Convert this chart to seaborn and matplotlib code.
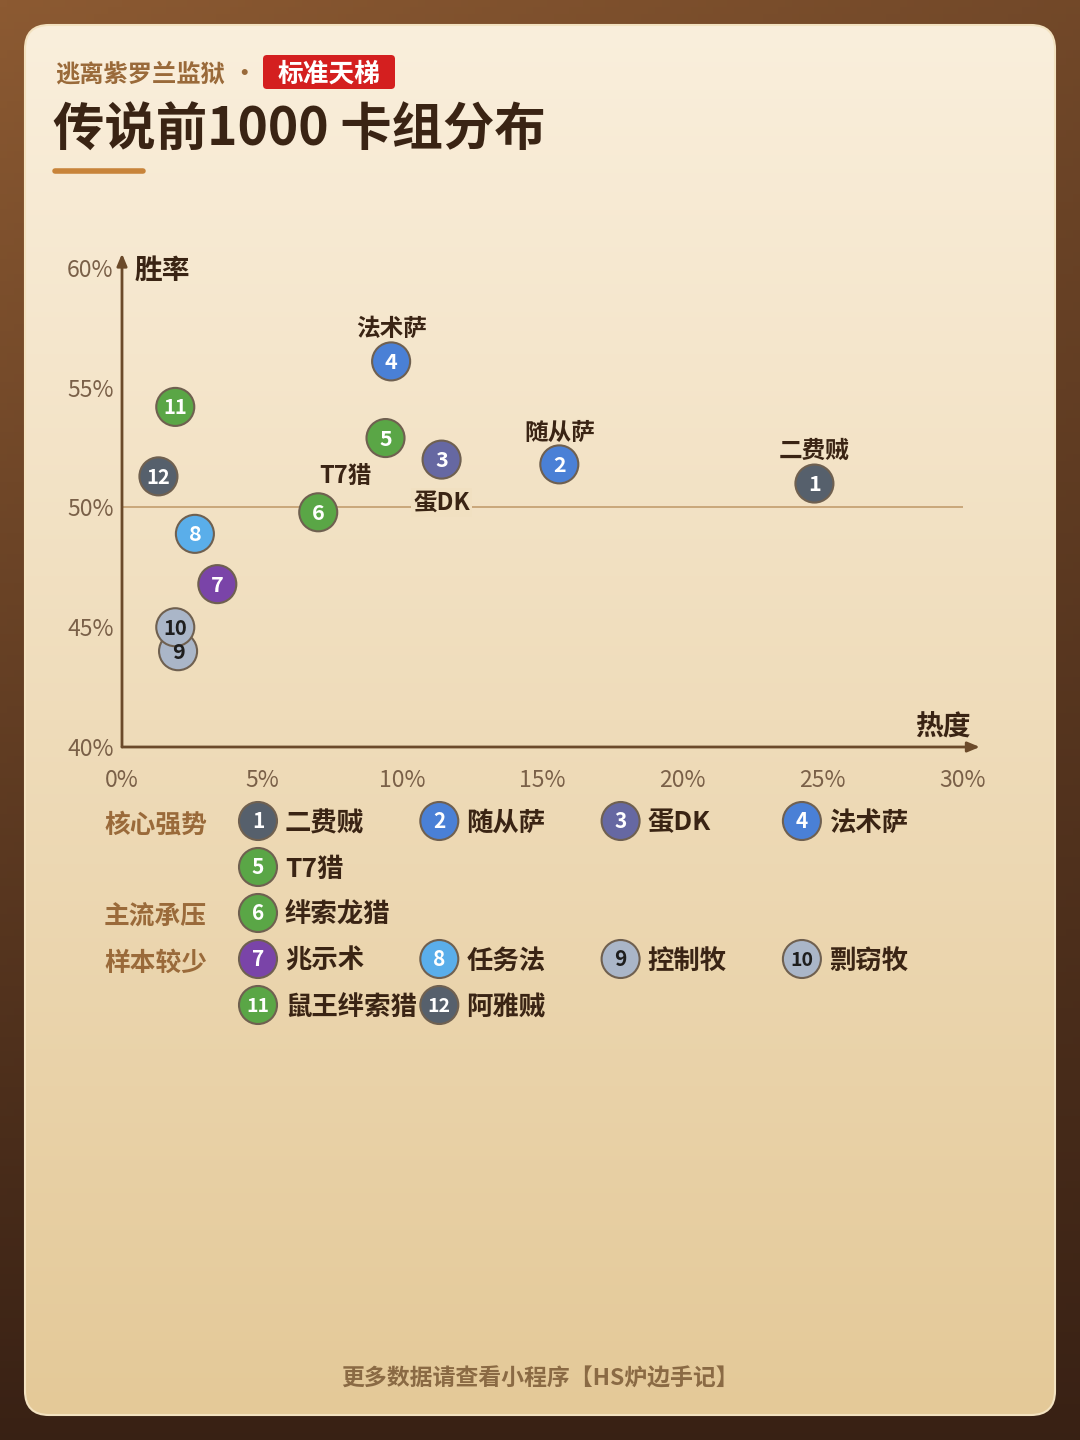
import numpy as np
import pandas as pd
import matplotlib
matplotlib.use("Agg")
import matplotlib.pyplot as plt
from matplotlib.patches import FancyBboxPatch, Circle
import seaborn as sns

# ---------------- data ----------------
deck_ids = [1, 2, 3, 4, 5, 6, 7, 8, 9, 10, 11, 12]
deck_names = ["二费贼", "随从萨", "蛋DK", "法术萨", "T7猎", "绊索龙猎",
              "兆示术", "任务法", "控制牧", "剽窃牧", "鼠王绊索猎", "阿雅贼"]
popularity = [24.7, 15.6, 11.4, 9.6, 9.4, 7.0, 3.4, 2.6, 2.0, 1.9, 1.9, 1.3]
winrate = [51.0, 51.8, 52.0, 56.1, 52.9, 49.8, 46.8, 48.9, 44.0, 45.0, 54.2, 51.3]
deck_tiers = ["核心强势"] * 5 + ["主流承压"] + ["样本较少"] * 6
tier_order = ["核心强势", "主流承压", "样本较少"]
deck_colors = ["#56606c", "#4a80d6", "#6668a2", "#4a80d6", "#5aa646", "#5aa646",
               "#7a44a8", "#5aaeea", "#aab6c8", "#aab6c8", "#5aa646", "#56606c"]
x_ticks = [0, 5, 10, 15, 20, 25, 30]
y_ticks = [40, 45, 50, 55, 60]
labeled = {1: (0, 33), 2: (0, 31), 4: (0, 32), 5: (-40, -39), 3: (0, -43)}

df = pd.DataFrame({"id": [str(i) for i in deck_ids], "热度": popularity,
                   "胜率": winrate, "name": deck_names, "tier": deck_tiers})
palette = {str(i): c for i, c in zip(deck_ids, deck_colors)}

# ---------------- style ----------------
sns.set_theme(style="white")
plt.rcParams["font.family"] = ["Noto Sans CJK SC", "DejaVu Sans"]

W, H = 1080, 1440
fig = plt.figure(figsize=(W / 100, H / 100), dpi=100)

DARK = "#3a2414"
GOLD = "#9a6a3a"
TICK = "#7a6048"
AXC = "#6b4a2a"

# background axes in pixel coordinates
bg = fig.add_axes([0, 0, 1, 1], zorder=-5)
bg.set_xlim(0, W)
bg.set_ylim(H, 0)
bg.axis("off")

# outer gradient
yy, xx = np.mgrid[0:1:200j, 0:1:150j]
t = np.clip(0.8 * yy + 0.25 * xx * (1 - yy), 0, 1)
c0 = np.array([0x8c, 0x5a, 0x32]) / 255
c1 = np.array([0x24, 0x13, 0x0d]) / 255
outer = c0[None, None, :] * (1 - t[..., None]) + c1[None, None, :] * t[..., None]
bg.imshow(outer, extent=(0, W, H, 0), aspect="auto", zorder=0)

# card
card = FancyBboxPatch((25, 25), 1030, 1390, boxstyle="round,pad=0,rounding_size=24",
                      facecolor="none", edgecolor="#f3e2c0", linewidth=1.5, zorder=2)
bg.add_patch(card)
g = np.linspace(0, 1, 300)[:, None]
ct = np.array([0xfa, 0xef, 0xdc]) / 255
cb = np.array([0xe4, 0xc9, 0x98]) / 255
cardimg = ct[None, None, :] * (1 - g[..., None]) + cb[None, None, :] * g[..., None]
cardimg = np.repeat(cardimg, 2, axis=1)
im = bg.imshow(cardimg, extent=(25, 1055, 1415, 25), aspect="auto", zorder=1)
im.set_clip_path(card)

# header
bg.text(55, 74, "逃离紫罗兰监狱", fontsize=17.5, fontweight="bold", color=GOLD,
        ha="left", va="center", zorder=3)
bg.text(244, 74, "•", fontsize=17, fontweight="bold", color=GOLD, ha="center",
        va="center", zorder=3)
bg.add_patch(FancyBboxPatch((263, 55), 132, 34, boxstyle="round,pad=0,rounding_size=4",
                            facecolor="#d41f1f", edgecolor="none", zorder=3))
bg.text(329, 74, "标准天梯", fontsize=18.5, fontweight="bold", color="white",
        ha="center", va="center", zorder=4)
bg.text(53, 130, "传说前1000 卡组分布", fontsize=37, fontweight="bold", color=DARK,
        ha="left", va="center", zorder=3)
bg.plot([55, 143], [171, 171], color="#c8843a", lw=4, solid_capstyle="round", zorder=3)

# footer
bg.text(540, 1379, "更多数据请查看小程序【HS炉边手记】", fontsize=16.5, fontweight="bold",
        style="italic", color="#8a6a44", ha="center", va="center", zorder=3)

# ---------------- main chart ----------------
x0p, x1p, y0p, y1p = 122, 963, 747, 268
ax = fig.add_axes([x0p / W, (H - y0p) / H, (x1p - x0p) / W, (y0p - y1p) / H])
ax.set_facecolor("none")
ax.set_xlim(0, 30)
ax.set_ylim(40, 60)
for s in ax.spines.values():
    s.set_visible(False)

ax.plot([0, 30], [50, 50], color="#c9a77a", lw=1.4, zorder=1)

ax.annotate("", xy=(0, 60.6), xytext=(0, 40), annotation_clip=False,
            arrowprops=dict(arrowstyle="-|>,head_length=0.6,head_width=0.25",
                            color=AXC, lw=2, shrinkA=0, shrinkB=0))
ax.annotate("", xy=(30.6, 40), xytext=(0, 40), annotation_clip=False,
            arrowprops=dict(arrowstyle="-|>,head_length=0.6,head_width=0.25",
                            color=AXC, lw=2, shrinkA=0, shrinkB=0))

sns.scatterplot(data=df, x="热度", y="胜率", hue="id", palette=palette, s=750,
                edgecolor="#6f6050", linewidth=1.5, legend=False, ax=ax, zorder=3,
                clip_on=False)

for i, xv, yv in zip(deck_ids, popularity, winrate):
    tc = "#1e1e1e" if i in (9, 10) else "white"
    ax.annotate(str(i), xy=(xv, yv), xytext=(0, -1), textcoords="offset pixels",
                fontsize=15.5 if i < 10 else 14.5, fontweight="bold",
                color=tc, ha="center", va="center", zorder=4)

for i, (dx, dy) in labeled.items():
    k = deck_ids.index(i)
    kw = {}
    if i == 3:
        kw["bbox"] = dict(boxstyle="square,pad=0.1", facecolor="#f1e0c1", edgecolor="none")
    ax.annotate(deck_names[k], xy=(popularity[k], winrate[k]), xytext=(dx, dy),
                textcoords="offset pixels", ha="center", va="center", fontsize=17,
                fontweight="bold", color=DARK, zorder=5, **kw)

ax.set_xticks(x_ticks)
ax.set_xticklabels([f"{v}%" for v in x_ticks])
ax.set_yticks(y_ticks)
ax.set_yticklabels([f"{v}%" for v in y_ticks])
ax.tick_params(axis="both", length=0, labelsize=16.5, labelcolor=TICK)
ax.tick_params(axis="x", pad=16)
ax.tick_params(axis="y", pad=6)
ax.set_xlabel("")
ax.set_ylabel("")

ax.text(0.015, 0.994, "胜率", transform=ax.transAxes, fontsize=20, fontweight="bold",
        color=DARK, ha="left", va="center")
ax.text(0.976, 0.04, "热度", transform=ax.transAxes, fontsize=20, fontweight="bold",
        color=DARK, ha="center", va="center")

# ---------------- legend ----------------
row_y0, row_dy = 821, 46
col_x0, col_dx = 258, 181.3
row = 0
for tier in tier_order:
    members = [k for k, tt in enumerate(deck_tiers) if tt == tier]
    bg.text(104, row_y0 + row * row_dy + 4, tier, fontsize=18.5, fontweight="bold",
            color=GOLD, ha="left", va="center", zorder=3)
    for n, k in enumerate(members):
        r = row + n // 4
        c = n % 4
        cx = col_x0 + c * col_dx
        cy = row_y0 + r * row_dy
        bg.add_patch(Circle((cx, cy), 19, facecolor=deck_colors[k], edgecolor="#6f6050",
                            linewidth=1.5, zorder=3))
        tc = "#1e1e1e" if deck_ids[k] in (9, 10) else "white"
        bg.text(cx, cy + 1, str(deck_ids[k]), fontsize=15 if deck_ids[k] < 10 else 14,
                fontweight="bold", color=tc, ha="center", va="center", zorder=4)
        bg.text(cx + 27, cy + 2, deck_names[k], fontsize=19, fontweight="bold", color=DARK,
                ha="left", va="center", zorder=4)
    row += (len(members) - 1) // 4 + 1

fig.savefig("out.png", dpi=100)
